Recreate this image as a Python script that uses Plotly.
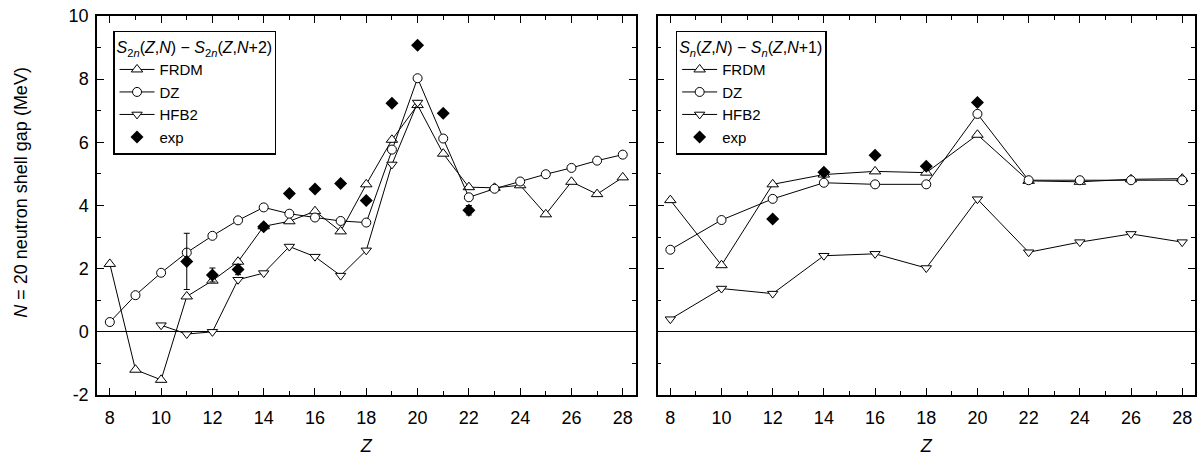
import plotly.graph_objects as go

# ---------------- data ----------------
z_left = list(range(8, 29))
frdm_left = [2.15, -1.20, -1.52, 1.12, 1.62, 2.22, 3.34, 3.50, 3.82, 3.18, 4.67,
             6.08, 7.18, 5.64, 4.58, 4.56, 4.64, 3.72, 4.75, 4.36, 4.89]
dz_left = [0.31, 1.16, 1.87, 2.51, 3.04, 3.53, 3.94, 3.74, 3.62, 3.51, 3.46,
           5.77, 8.03, 6.12, 4.26, 4.53, 4.76, 4.99, 5.19, 5.42, 5.61]
z_hfb2_left = list(range(10, 21))
hfb2_left = [0.21, -0.07, 0.00, 1.65, 1.86, 2.70, 2.38, 1.78, 2.58, 5.30, 7.26]
z_exp_left = list(range(11, 23))
exp_left = [2.23, 1.80, 1.97, 3.33, 4.38, 4.52, 4.70, 4.16, 7.24, 9.07, 6.92, 3.85]
exp_left_err = [0.89, 0.22, 0.16, 0.10, 0, 0, 0, 0, 0, 0, 0, 0.15]

z_right = list(range(8, 29, 2))
frdm_right = [4.17, 2.11, 4.67, 4.98, 5.08, 5.04, 6.24, 4.78, 4.75, 4.83, 4.85]
dz_right = [2.60, 3.54, 4.21, 4.72, 4.67, 4.67, 6.90, 4.80, 4.80, 4.80, 4.80]
hfb2_right = [0.40, 1.37, 1.21, 2.41, 2.47, 2.02, 4.20, 2.52, 2.84, 3.10, 2.84]
z_exp_right = [12, 14, 16, 18, 20]
exp_right = [3.57, 5.05, 5.59, 5.24, 7.26]

x_ticks = list(range(8, 29, 2))
y_ticks = [-2, 0, 2, 4, 6, 8, 10]

FONT = "Liberation Sans, Arial, sans-serif"

fig = go.Figure()

def add_series(xa, ya, legend, fz, fv, dzz, dzv, hz, hv, ez, ev, eerr):
    line = dict(color="black", width=1)
    fig.add_trace(go.Scatter(x=fz, y=fv, mode="lines+markers", name="FRDM",
                             xaxis=xa, yaxis=ya, legend=legend, line=line,
                             marker=dict(symbol="triangle-up", size=10, color="white",
                                         line=dict(color="black", width=1))))
    fig.add_trace(go.Scatter(x=dzz, y=dzv, mode="lines+markers", name="DZ",
                             xaxis=xa, yaxis=ya, legend=legend, line=line,
                             marker=dict(symbol="circle", size=9, color="white",
                                         line=dict(color="black", width=1))))
    fig.add_trace(go.Scatter(x=hz, y=hv, mode="lines+markers", name="HFB2",
                             xaxis=xa, yaxis=ya, legend=legend, line=line,
                             marker=dict(symbol="triangle-down", size=9, color="white",
                                         line=dict(color="black", width=1))))
    ey = None
    if eerr is not None:
        ey = dict(type="data", array=eerr, visible=True, color="black",
                  thickness=1, width=3)
    fig.add_trace(go.Scatter(x=ez, y=ev, mode="markers", name="exp",
                             xaxis=xa, yaxis=ya, legend=legend, error_y=ey,
                             marker=dict(symbol="diamond", size=10, color="black",
                                         line=dict(color="black", width=0))))

add_series("x", "y", "legend", z_left, frdm_left, z_left, dz_left,
           z_hfb2_left, hfb2_left, z_exp_left, exp_left, exp_left_err)
add_series("x2", "y2", "legend2", z_right, frdm_right, z_right, dz_right,
           z_right, hfb2_right, z_exp_right, exp_right, None)

axis_common = dict(
    showline=True, linecolor="black", linewidth=1.5, mirror="ticks",
    ticks="inside", ticklen=7, tickwidth=1, tickcolor="black",
    showgrid=False, zeroline=False,
    tickfont=dict(family=FONT, size=18, color="black"),
)

xaxis_common = dict(axis_common, range=[7.5, 28.5], tickmode="array",
                    tickvals=x_ticks, ticktext=[str(v) for v in x_ticks],
                    minor=dict(ticks="inside", ticklen=4, dtick=1, tick0=0,
                               tickcolor="black", tickwidth=1),
                    ticklabelstandoff=6,
                    title=dict(text="<i>Z</i>", font=dict(family=FONT, size=18, color="black"),
                               standoff=12))

yaxis_common = dict(axis_common, range=[-2, 10], tickmode="array",
                    tickvals=y_ticks, ticktext=[str(v) for v in y_ticks],
                    minor=dict(ticks="inside", ticklen=4, dtick=1, tick0=0,
                               tickcolor="black", tickwidth=1),
                    zeroline=True, zerolinecolor="black", zerolinewidth=1.2)

fig.update_layout(
    width=1203, height=459,
    margin=dict(l=97, r=6, t=16, b=61),
    paper_bgcolor="white", plot_bgcolor="white",
    font=dict(family=FONT, size=15, color="black"),
    xaxis=dict(xaxis_common, domain=[0, 0.4905], anchor="y"),
    yaxis=dict(yaxis_common, anchor="x", ticklabelstandoff=3),
    xaxis2=dict(xaxis_common, domain=[0.5105, 1.0], anchor="y2"),
    yaxis2=dict(yaxis_common, anchor="x2", showticklabels=False),
    legend=dict(
        x=0.0146, y=0.9607, xanchor="left", yanchor="top",
        bordercolor="black", borderwidth=1.5, bgcolor="white",
        font=dict(family=FONT, size=15, color="black"),
        title=dict(text="<i>S</i><sub>2<i>n</i></sub>(<i>Z</i>,<i>N</i>) − <i>S</i><sub>2<i>n</i></sub>(<i>Z</i>,<i>N</i>+2)",
                   font=dict(family=FONT, size=16, color="black"), side="top"),
        tracegroupgap=0, itemwidth=35,
    ),
    legend2=dict(
        x=0.527, y=0.9607, xanchor="left", yanchor="top",
        bordercolor="black", borderwidth=1.5, bgcolor="white",
        font=dict(family=FONT, size=15, color="black"),
        title=dict(text="<i>S</i><sub><i>n</i></sub>(<i>Z</i>,<i>N</i>) − <i>S</i><sub><i>n</i></sub>(<i>Z</i>,<i>N</i>+1)",
                   font=dict(family=FONT, size=16, color="black"), side="top"),
        tracegroupgap=0, itemwidth=35,
    ),
    annotations=[
        dict(text="<i>N</i> = 20 neutron shell gap (MeV)", textangle=-90,
             xref="paper", yref="paper", x=(20 - 97) / 1100, y=0.534,
             xanchor="center", yanchor="middle", showarrow=False,
             font=dict(family=FONT, size=18, color="black")),
    ],
)

fig.write_html("out.html")
